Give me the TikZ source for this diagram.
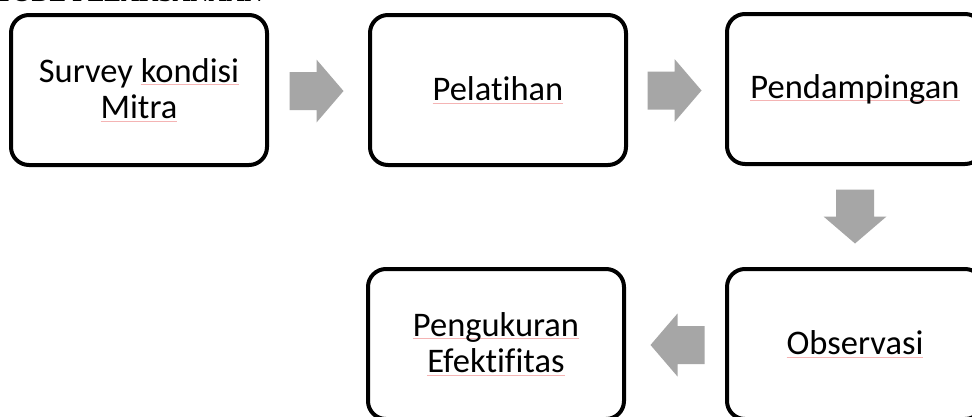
\documentclass[tikz,border=0pt]{standalone}
\usepackage{fontspec}
\setmainfont{Carlito}[RawFeature={-liga}]
\newfontfamily\headfont{Liberation Serif}
\usetikzlibrary{calc}

\definecolor{arrowgray}{RGB}{166,166,166}
\definecolor{squig}{RGB}{244,180,180}

% faint underline that a spell checker puts under a word
\newsavebox\markbox
\newcommand\spellmark[1]{\sbox\markbox{#1}\rlap{\color{squig}\rule[-2.6pt]{\wd\markbox}{0.75pt}}\usebox\markbox}

\tikzset{
  stepbox/.style={draw=black, line width=4pt, rounded corners=18pt,
    minimum width=256pt, minimum height=150pt, fill=white,
    align=center, inner sep=0pt,
    font=\fontsize{34.5}{36.5}\selectfont},
  blockarrow/.style={fill=arrowgray, draw=none},
}

% block arrow of length 54 centred on a point, pointing along +x before rotation
\newcommand\blockarr[2]{%
  \fill[blockarrow, shift={(#1)}, rotate=#2]
    (-27pt,-19pt) -- (0pt,-19pt) -- (0pt,-31.5pt) -- (27pt,0pt)
    -- (0pt,31.5pt) -- (0pt,19pt) -- (-27pt,19pt) -- cycle;}

\begin{document}
\begin{tikzpicture}[x=1pt,y=-1pt]
  \useasboundingbox (0,0) rectangle (972,416);
  \clip (0,0) rectangle (972,416);
  \fill[white] (0,0) rectangle (972,416);

  % section heading, mostly above the top edge
  \node[anchor=base east, inner sep=0pt, font=\headfont\bfseries\fontsize{25}{28}\selectfont]
    (heading) at (263,1.8) {METODE PELAKSANAAN};

  % process steps
  \node[stepbox] (survey) at (139,90) {Survey \spellmark{kondisi}\\\spellmark{Mitra}};
  \node[stepbox] (latih)  at (498,90) {\spellmark{Pelatihan}};
  \node[stepbox] (damping) at (855,89) {\spellmark{Pendampingan}};
  \node[stepbox] (obs)    at (855,344) {\spellmark{Observasi}};
  \node[stepbox] (ukur)   at (496,344) {\spellmark{Pengukuran}\\\spellmark{Efektifitas}};

  % connectors: block arrows centred in the gaps between steps
  \path (survey.east) -- (latih.west) coordinate[pos=0.5] (g1);
  \path (latih.east) -- (damping.west) coordinate[pos=0.5] (g2);
  \path (damping.south) -- (obs.north) coordinate[pos=0.5] (g3);
  \path (obs.west) -- (ukur.east) coordinate[pos=0.5] (g4);

  \blockarr{$(g1)+(-2,1)$}{0}
  \blockarr{$(g2)+(-2,1)$}{0}
  \blockarr{g3}{-90}
  \blockarr{$(g4)+(2,1)$}{180}
\end{tikzpicture}
\end{document}
